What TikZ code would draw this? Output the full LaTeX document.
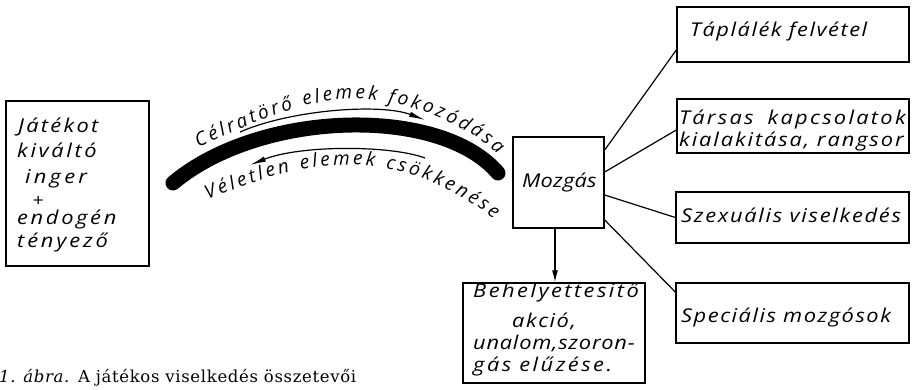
\documentclass[tikz,border=0pt]{standalone}
\usepackage{fontspec}
\setmainfont{DejaVu Serif}[LetterSpace=4]
\newfontfamily\hand{Open Sans}[FakeStretch=1.15]
\newfontfamily\handc{Open Sans}
\usetikzlibrary{arrows.meta,decorations.text}
\begin{document}
\begin{tikzpicture}[x=1pt,y=-1pt,
  box/.style={draw, line width=1.4pt, inner sep=0},
  hw/.style 2 args={inner sep=0, anchor=base west, font=\hand\itshape\fontsize{#1}{#1}\selectfont\addfontfeature{LetterSpace=#2}},
  link/.style={line width=1.2pt},
  bowarrow/.style={line width=1.2pt, -{Latex[length=16pt,width=5.5pt]}}]
\useasboundingbox (0,0) rectangle (916,390);

% left box
\node[box, minimum width=143pt, minimum height=165pt] (inger) at (77.5,183.5) {};
\node[hw={19}{12}] (l1) at (18,133) {Játékot};
\node[hw={19}{14}] (l2) at (17,158) {kiváltó};
\node[hw={19}{17}] (l3) at (25,184) {inger};
\node[hw={17}{0}, anchor=center] (l4) at (38,201) {+};
\node[hw={19}{14}] (l5) at (17,225) {endogén};
\node[hw={19}{15}] (l6) at (17,248) {tényező};

% bow
\draw[line width=15pt, line cap=round] (173,183) .. controls (260,110) and (440,105) .. (498,173);
\draw[bowarrow] (240,132) .. controls (290,110) and (380,103) .. (425,120);
\draw[bowarrow] (425,158) .. controls (390,145) and (300,145) .. (250,165);
\path[decorate, decoration={text along path, text align=fit to path,
  text={|\handc\itshape\fontsize{19}{19}\selectfont|Célratörő elemek fokozódása}}]
  (198,147) .. controls (250,125) and (300,100) .. (350,99) .. controls (400,98) and (460,120) .. (498,154);
\path[decorate, decoration={text along path, text align=fit to path,
  text={|\handc\itshape\fontsize{19}{19}\selectfont|Véletlen elemek csökkenése}}]
  (208,200) .. controls (260,178) and (300,165) .. (350,165) .. controls (400,165) and (450,185) .. (494,219);

% Mozgás
\node[box, minimum width=91pt, minimum height=91pt] (mozgas) at (558.5,182.5) {};
\node[hw={19}{1}] (mt) at (522,188) {Mozgás};

% right boxes
\node[box, minimum width=232pt, minimum height=55pt] (b1) at (793,34.5) {};
\node[hw={19}{8}] (b1t) at (690,37) {Táplálék felvétel};
\node[box, minimum width=232pt, minimum height=54pt] (b2) at (793,126) {};
\node[hw={19}{12}] (b2t) at (679,125) {Társas\hspace{6pt} kapcsolatok};
\node[hw={19}{10}] (b2u) at (679,147) {kialakitása, rangsor};
\node[box, minimum width=233pt, minimum height=51pt] (b3) at (792.5,217.5) {};
\node[hw={19}{9}] (b3t) at (681,223) {Szexuális viselkedés};
\node[box, minimum width=233pt, minimum height=60pt] (b4) at (792.5,313) {};
\node[hw={19}{8}] (b4t) at (681,322) {Speciális mozgósok};

% bottom box
\node[box, minimum width=182pt, minimum height=100pt] (beh) at (554,333) {};
\node[hw={19}{13}] (e1) at (473,298) {Behelyettesitő};
\node[hw={19}{8}] (e2) at (512,327) {akció,};
\node[hw={19}{4}] (e3) at (473,349) {unalom,szoron-};
\node[hw={19}{13}] (e4) at (473,371) {gás elűzése.};

% connectors
\draw[link] ([yshift=32.5pt]mozgas.east) -- ([yshift=-15.5pt]b1.west);
\draw[link] ([yshift=10.5pt]mozgas.east) -- ([yshift=-4pt]b2.west);
\draw[link] ([yshift=-12.5pt]mozgas.east) -- (b3.west);
\draw[link] ([yshift=-37.5pt]mozgas.east) -- ([yshift=21pt]b4.west);
\draw[link, -{Latex[length=12pt,width=6pt]}] ([xshift=-3.5pt]mozgas.south) -- ([xshift=-3.5pt]mozgas.south |- beh.north);

% caption
\node[inner sep=0, anchor=base west, font=\fontsize{16.5}{16.5}\selectfont] (cap) at (-1,382) {\textit{1. ábra.} A játékos viselkedés összetevői};
\end{tikzpicture}
\end{document}
